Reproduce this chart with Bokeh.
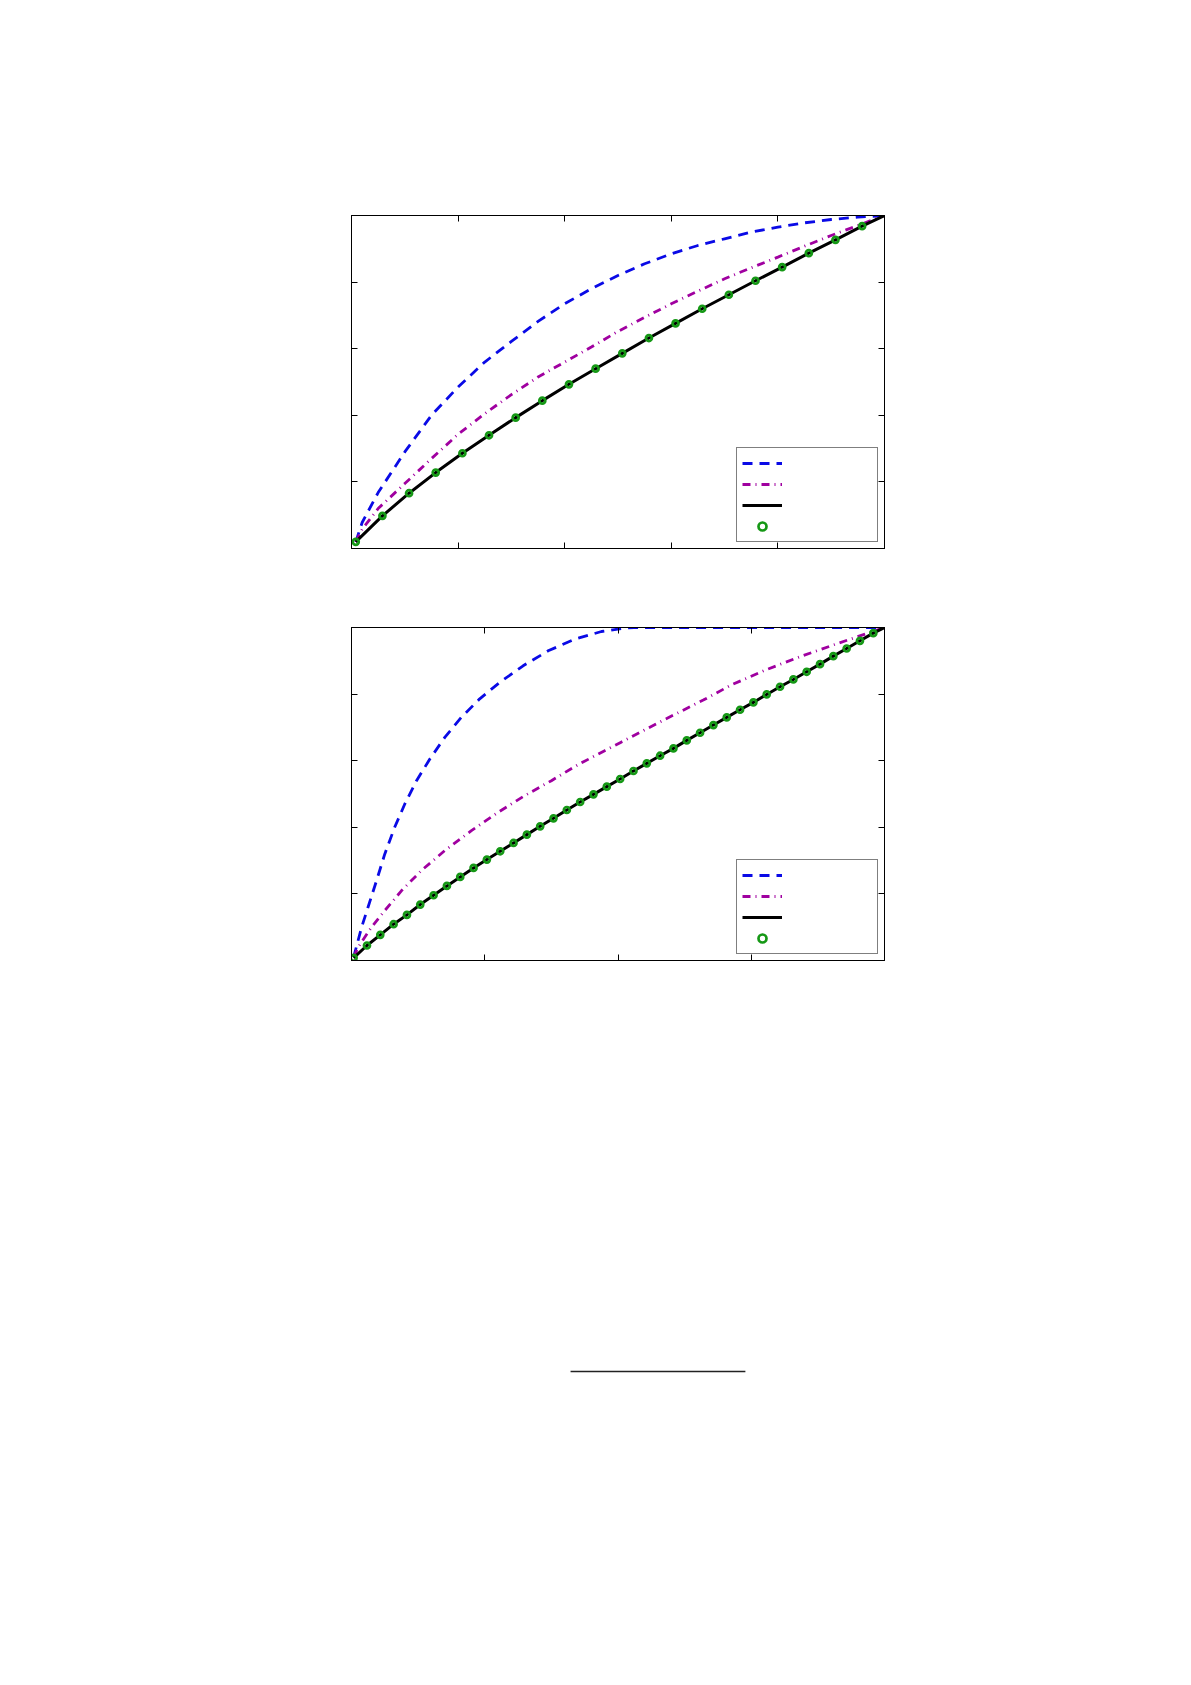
from bokeh.plotting import figure
from bokeh.layouts import column
from bokeh.models import Legend, LegendItem, LinearAxis, FixedTicker
from bokeh.embed import file_html
from bokeh.resources import INLINE

# ---- upper panel ----
top_xticks = [0.0, 0.2, 0.4, 0.6, 0.8, 1.0]
top_yticks = [0.0, 0.2, 0.4, 0.6, 0.8, 1.0]

top_dash_x = [0.008, 0.02, 0.05, 0.1, 0.15, 0.2, 0.25, 0.3, 0.35, 0.4, 0.45,
              0.5, 0.55, 0.6, 0.65, 0.7, 0.75, 0.8, 0.85, 0.9, 0.95, 1.0]
top_dash_y = [0.02, 0.078, 0.168, 0.29, 0.40, 0.485, 0.56, 0.622, 0.682, 0.735, 0.78,
              0.82, 0.855, 0.885, 0.91, 0.93, 0.95, 0.965, 0.978, 0.988, 0.995, 1.0]

top_dashdot_x = [0.008, 0.02, 0.05, 0.1, 0.15, 0.2, 0.25, 0.3, 0.35, 0.4, 0.45,
                 0.5, 0.55, 0.6, 0.65, 0.7, 0.75, 0.8, 0.85, 0.9, 0.95, 1.0]
top_dashdot_y = [0.02, 0.058, 0.12, 0.195, 0.27, 0.343, 0.405, 0.462, 0.515, 0.56, 0.605,
                 0.652, 0.694, 0.735, 0.773, 0.81, 0.843, 0.875, 0.908, 0.94, 0.97, 1.0]

top_solid_x = [0.008, 0.058, 0.108, 0.158, 0.208, 0.258, 0.308, 0.358, 0.408, 0.458, 0.508,
               0.558, 0.608, 0.658, 0.708, 0.758, 0.808, 0.858, 0.908, 0.958, 1.0]
top_solid_y = [0.02, 0.098, 0.166, 0.228, 0.286, 0.340, 0.393, 0.444, 0.493, 0.540, 0.586,
               0.632, 0.676, 0.720, 0.762, 0.804, 0.845, 0.887, 0.927, 0.968, 1.0]

top_mark_x = [0.008, 0.058, 0.108, 0.158, 0.208, 0.258, 0.308, 0.358, 0.408, 0.458,
              0.508, 0.558, 0.608, 0.658, 0.708, 0.758, 0.808, 0.858, 0.908, 0.958]
top_mark_y = [0.02, 0.098, 0.166, 0.228, 0.286, 0.340, 0.393, 0.444, 0.493, 0.540,
              0.586, 0.632, 0.676, 0.720, 0.762, 0.804, 0.845, 0.887, 0.927, 0.968]

# ---- lower panel ----
bot_xticks = [0.0, 0.25, 0.5, 0.75, 1.0]
bot_yticks = [0.0, 0.2, 0.4, 0.6, 0.8, 1.0]

bot_dash_x = [0.004, 0.019, 0.031, 0.047, 0.0625, 0.081, 0.1, 0.122, 0.147, 0.175,
              0.206, 0.24, 0.278, 0.322, 0.369, 0.419, 0.469, 0.506, 0.53, 1.0]
bot_dash_y = [0.01, 0.10, 0.16, 0.24, 0.32, 0.40, 0.47, 0.54, 0.605, 0.67,
              0.73, 0.785, 0.835, 0.885, 0.93, 0.965, 0.988, 0.997, 1.0, 1.0]

bot_dashdot_x = [0.004, 0.0125, 0.0375, 0.0625, 0.094, 0.131, 0.175, 0.225, 0.275, 0.325,
                 0.375, 0.425, 0.475, 0.505, 0.583, 0.66, 0.712, 0.776, 0.841, 0.912, 1.0]
bot_dashdot_y = [0.01, 0.04, 0.10, 0.15, 0.21, 0.27, 0.33, 0.39, 0.445, 0.495,
                 0.54, 0.588, 0.63, 0.655, 0.72, 0.782, 0.827, 0.872, 0.912, 0.952, 1.0]

bot_mark_x = [0.004, 0.029, 0.054, 0.079, 0.104, 0.129, 0.154, 0.179, 0.204, 0.229,
              0.254, 0.279, 0.304, 0.329, 0.354, 0.379, 0.404, 0.429, 0.454, 0.479,
              0.504, 0.529, 0.554, 0.579, 0.604, 0.629, 0.654, 0.679, 0.704, 0.729,
              0.754, 0.779, 0.804, 0.829, 0.854, 0.879, 0.904, 0.929, 0.954, 0.979]
bot_mark_y = [0.008, 0.045, 0.077, 0.109, 0.137, 0.168, 0.196, 0.224, 0.251, 0.278,
              0.303, 0.328, 0.353, 0.378, 0.403, 0.427, 0.452, 0.476, 0.499, 0.522,
              0.545, 0.569, 0.592, 0.615, 0.637, 0.661, 0.684, 0.707, 0.730, 0.753,
              0.775, 0.799, 0.822, 0.844, 0.867, 0.890, 0.914, 0.937, 0.960, 0.983]

bot_solid_x = bot_mark_x + [1.0]
bot_solid_y = bot_mark_y + [1.0]

# fraction bar near the bottom of the page (frame-relative, same columns as the plots)
bar_x = [0.411, 0.739]
bar_y = [29, 29]

BLUE = "#0a0ae6"
MAGENTA = "#a000a0"
GREEN = "#159815"

LEFT = 351
RIGHT = 291


def style_axis(ax, ticks):
    ax.ticker = FixedTicker(ticks=ticks)
    ax.major_label_overrides = {t: "" for t in ticks}
    ax.major_tick_in = 6
    ax.major_tick_out = 0
    ax.minor_tick_line_color = None
    ax.axis_line_color = "black"
    ax.major_tick_line_color = "black"
    ax.major_label_standoff = 0


def panel(xticks, yticks, dash, dashdot, solid, marks, height, top):
    p = figure(width=1175, height=height, x_range=(0, 1), y_range=(0, 1),
               min_border_left=LEFT, min_border_right=RIGHT,
               min_border_top=top, min_border_bottom=40,
               output_backend="svg", toolbar_location=None)
    p.grid.visible = False
    p.outline_line_color = "black"
    p.background_fill_color = "white"
    p.border_fill_color = "white"
    p.add_layout(LinearAxis(), "right")
    p.add_layout(LinearAxis(), "above")
    for ax in p.xaxis:
        style_axis(ax, xticks)
    for ax in p.yaxis:
        style_axis(ax, yticks)

    r1 = p.line(dash[0], dash[1], line_color=BLUE, line_width=2.8, line_dash="10 7")
    r2 = p.line(dashdot[0], dashdot[1], line_color=MAGENTA, line_width=2.8, line_dash="8 5 1 5")
    r3 = p.line(solid[0], solid[1], line_color="black", line_width=3)
    r4 = p.scatter(marks[0], marks[1], marker="circle", size=6, fill_color=None,
                   line_color=GREEN, line_width=2.7)

    legend = Legend(items=[LegendItem(label=" ", renderers=[r]) for r in (r1, r2, r3, r4)],
                    location="bottom_right", margin=6, padding=5, spacing=1,
                    glyph_width=40, glyph_height=20, label_height=20,
                    label_width=85, label_standoff=5, label_text_font_size="10px",
                    border_line_color="black", border_line_width=1,
                    background_fill_color="white", background_fill_alpha=1.0)
    p.add_layout(legend)
    return p


p1 = panel(top_xticks, top_yticks, (top_dash_x, top_dash_y), (top_dashdot_x, top_dashdot_y),
           (top_solid_x, top_solid_y), (top_mark_x, top_mark_y), 588, 215)
p2 = panel(bot_xticks, bot_yticks, (bot_dash_x, bot_dash_y), (bot_dashdot_x, bot_dashdot_y),
           (bot_solid_x, bot_solid_y), (bot_mark_x, bot_mark_y), 412, 39)

p3 = figure(width=1175, height=400, x_range=(0, 1), y_range=(0, 400),
            x_axis_type=None, y_axis_type=None,
            min_border_left=LEFT, min_border_right=RIGHT,
            min_border_top=0, min_border_bottom=0,
            output_backend="svg", toolbar_location=None)
p3.grid.visible = False
p3.outline_line_color = None
p3.line(bar_x, bar_y, line_color="#222222", line_width=1.6)

page = column(p1, p2, p3)
open("out.html", "w").write(file_html(page, INLINE))
